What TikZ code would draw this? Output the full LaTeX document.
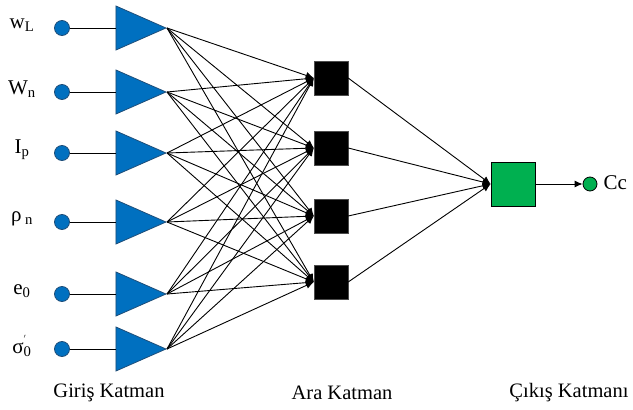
\documentclass[tikz,border=0pt]{standalone}
\usepackage{fontspec}
\setmainfont{Liberation Serif}
\usetikzlibrary{arrows.meta,shapes.geometric}
\definecolor{nnblue}{HTML}{0070C0}
\definecolor{nnblueline}{HTML}{1F4E79}
\definecolor{nngreen}{HTML}{00B050}
\newcommand{\labfont}{\fontsize{21}{24}\selectfont}
\newcommand{\capfont}{\fontsize{20.5}{24}\selectfont}
\tikzset{
  every node/.style={font=\labfont},
  inp/.style={circle,draw=nnblueline,fill=nnblue,line width=0.8pt,minimum size=15pt,inner sep=0pt},
  tri/.style={isosceles triangle,isosceles triangle stretches,draw=nnblueline,fill=nnblue,
              line width=0.8pt,minimum width=44pt,minimum height=50pt,inner sep=0pt,anchor=apex},
  hid/.style={rectangle,draw=black!70,fill=black,minimum size=34pt,inner sep=0pt},
  outb/.style={rectangle,draw=black,fill=nngreen,line width=0.8pt,minimum size=44pt,inner sep=0pt},
  outc/.style={circle,draw=black,fill=nngreen,line width=0.8pt,minimum size=14pt,inner sep=0pt},
  link/.style={line width=0.9pt,draw=black},
  flow/.style={-{Latex[length=8pt,width=7pt]},line width=0.9pt,draw=black},
  layer/.style={font=\capfont},
}

\begin{document}
\begin{tikzpicture}[x=1pt,y=-1pt]
  \useasboundingbox (0,0) rectangle (633,410);

  % ---------- input layer ----------
  \foreach \y/\lab [count=\i] in {28/{w\textsubscript{L}},92/{W\textsubscript{n}},
      153/{I\textsubscript{p}},222/{ρ\,\textsubscript{n}},294/{e\textsubscript{0}},
      349/{σ\rlap{\raisebox{1.2ex}{\fontsize{9}{9}\selectfont$'$}}\textsubscript{0}}} {
    \node[inp] (in\i) at (62,\y) {};
    \node (lab\i) at (22,\y-3) {\lab};
    \node[tri] (tri\i) at (167,\y) {};
    \draw[link] (in\i.east) -- (tri\i.west);
  }

  % ---------- hidden layer ----------
  \foreach \y [count=\j] in {78,148,216,282} {
    \node[hid] (hid\j) at (331,\y) {};
  }
  \foreach \i in {1,...,6} {
    \foreach \j in {1,...,4} {
      \draw[flow] (tri\i.apex) -- (hid\j.west);
    }
  }

  % ---------- output layer ----------
  \node[outb] (out) at (513,184) {};
  \foreach \j in {1,...,4} {
    \draw[flow] (hid\j.east) -- (out.west);
  }
  \node[outc] (cc) at (590,184) {};
  \draw[flow] (out.east) -- (cc.west);
  \node[anchor=west] (cclab) at (600,183) {Cc};

  % ---------- layer names ----------
  \node[layer] (lin)  at (109,393) {Giriş Katman};
  \node[layer] (lhid) at (342,393) {Ara Katman};
  \node[layer] (lout) at (569,393) {Çıkış Katmanı};
\end{tikzpicture}
\end{document}
